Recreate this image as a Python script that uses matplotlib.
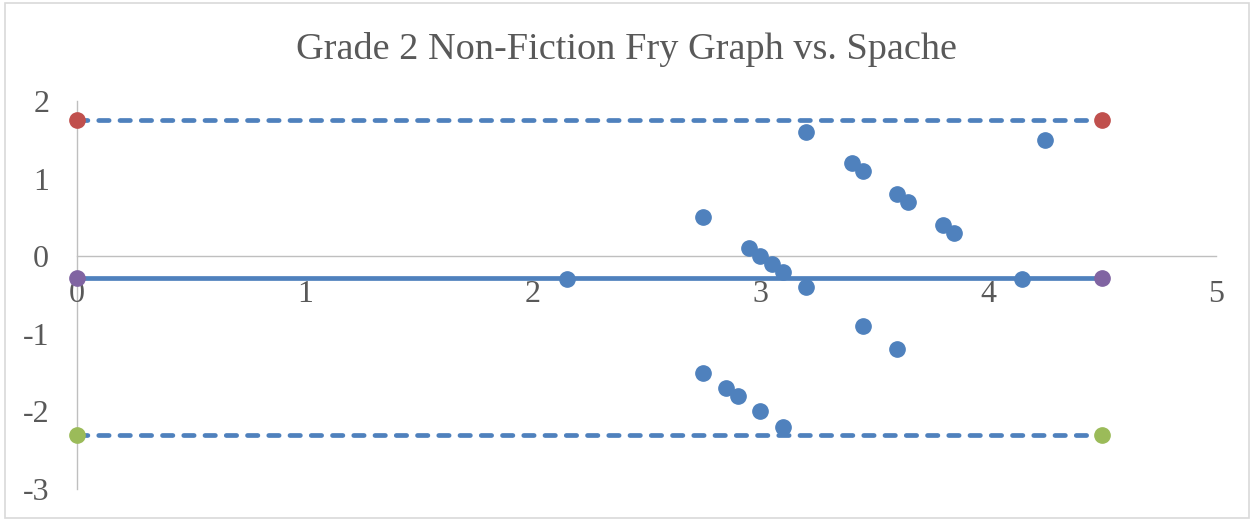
import matplotlib.pyplot as plt
from matplotlib.patches import Rectangle

# scatter data (Fry graph grade vs Spache difference)
x_pts = [2.15, 2.75, 2.95, 3.0, 3.05, 3.1, 3.2, 3.2, 3.4, 3.45, 3.6, 3.65,
         3.8, 3.85, 4.15, 4.25, 3.45, 3.6, 2.75, 2.85, 2.9, 3.0, 3.1]
y_pts = [-0.3, 0.5, 0.1, 0.0, -0.1, -0.2, -0.4, 1.6, 1.2, 1.1, 0.8, 0.7,
         0.4, 0.3, -0.3, 1.5, -0.9, -1.2, -1.5, -1.7, -1.8, -2.0, -2.2]

# reference lines: mean and +/- limits
line_x = [0, 4.5]
mean_y = [-0.28, -0.28]
upper_y = [1.75, 1.75]
lower_y = [-2.31, -2.31]

xticks = [0, 1, 2, 3, 4, 5]
yticks = [-3, -2, -1, 0, 1, 2]

blue = '#4F81BD'
gray_txt = '#595959'
axis_col = '#BFBFBF'

plt.rcParams['font.family'] = ['Liberation Serif', 'DejaVu Serif']
plt.rcParams['axes.unicode_minus'] = False

fig = plt.figure(figsize=(12.54, 5.2), dpi=100)
ax = fig.add_axes([0.0614, 0.0596, 0.9083, 0.7462])

#lines
ax.plot(line_x, upper_y, color=blue, lw=3.4, ls=(0, (2.2, 2.3)), dash_capstyle='round')
ax.plot(line_x, lower_y, color=blue, lw=3.4, ls=(0, (2.2, 2.3)), dash_capstyle='round')
ax.plot(line_x, mean_y, color=blue, lw=3.4, solid_capstyle='butt')

#end markers
ax.plot(line_x, upper_y, ls='none', marker='o', ms=11, color='#C0504D', mec='#C0504D', clip_on=False)
ax.plot(line_x, lower_y, ls='none', marker='o', ms=11, color='#9BBB59', mec='#9BBB59', clip_on=False)
ax.plot(line_x, mean_y, ls='none', marker='o', ms=11, color='#8064A2', mec='#8064A2', clip_on=False)

#points
ax.plot(x_pts, y_pts, ls='none', marker='o', ms=11, color=blue, mec=blue, clip_on=False)

ax.set_xlim(0, 5)
ax.set_ylim(-3, 2)
ax.set_xticks(xticks)
ax.set_yticks(yticks)

ax.spines['top'].set_visible(False)
ax.spines['right'].set_visible(False)
ax.spines['left'].set_position(('data', 0))
ax.spines['bottom'].set_position(('data', 0))
for s in ['left', 'bottom']:
    ax.spines[s].set_color(axis_col)
    ax.spines[s].set_linewidth(1.0)
    ax.spines[s].set_zorder(0)

ax.tick_params(axis='y', length=0, pad=20, labelsize=23, labelcolor=gray_txt)
ax.tick_params(axis='x', length=0, pad=17, labelsize=23, labelcolor=gray_txt)
ax.patch.set_visible(False)

fig.text(0.5, 0.905, 'Grade 2 Non-Fiction Fry Graph vs. Spache', ha='center', va='center',
         fontsize=27.5, color=gray_txt)

#chart border
fig.patches.append(Rectangle((0.004, 0.004), 0.992, 0.991, transform=fig.transFigure,
                             fill=False, edgecolor='#D9D9D9', lw=1.2))

plt.savefig('out.png', dpi=100)
